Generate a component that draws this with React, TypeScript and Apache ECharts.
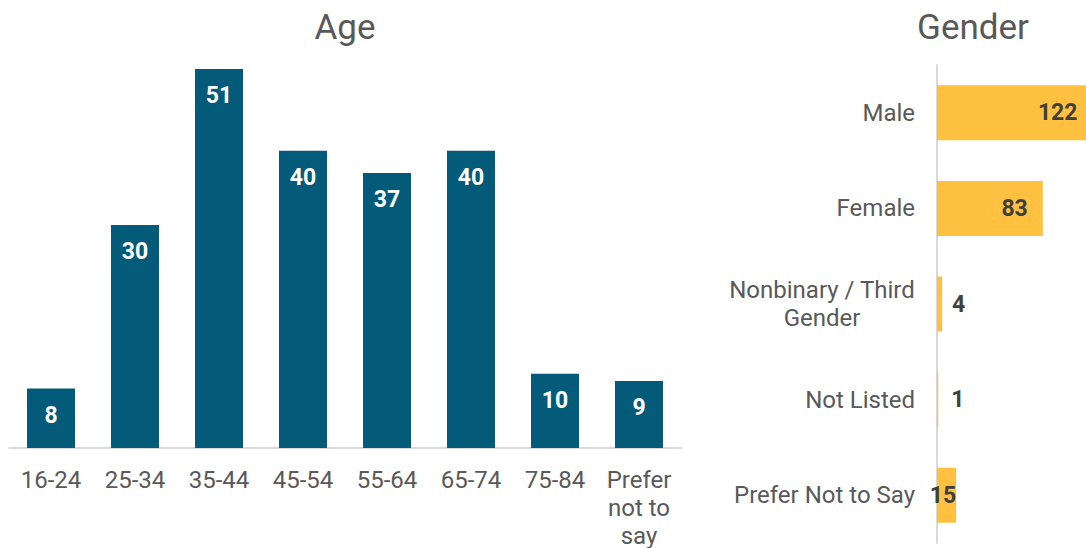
import React, { useEffect, useRef } from 'react';
import * as echarts from 'echarts';

const ageTitle = 'Age';
const genderTitle = 'Gender';
const ageCategories = ['16-24', '25-34', '35-44', '45-54', '55-64', '65-74', '75-84', 'Prefer not to say'];
const ageCounts = [8, 30, 51, 40, 37, 40, 10, 9];
const genderCategories = ['Male', 'Female', 'Nonbinary / Third Gender', 'Not Listed', 'Prefer Not to Say'];
const genderCounts = [122, 83, 4, 1, 15];

const FONT = 'Roboto, "Noto Sans", sans-serif';
const GREY = '#595959';
const DARK = '#404040';
const AXIS = '#d9d9d9';
const BLUE = '#035a79';
const GOLD = '#ffc13f';

function wrap(text: string, maxChars: number): string[] {
  const words = text.split(' ');
  const lines: string[] = [];
  let cur = '';
  for (const w of words) {
    const next = cur ? cur + ' ' + w : w;
    if (next.length > maxChars && cur) {
      lines.push(cur);
      cur = w;
    } else {
      cur = next;
    }
  }
  if (cur) lines.push(cur);
  return lines;
}

export default function App() {
  const ref = useRef<HTMLDivElement>(null);
  useEffect(() => {
    const chart = echarts.init(ref.current!, null, { renderer: 'svg' });
    const option: any = {
      animation: false,
      graphic: [
        {
          type: 'text', x: 345, y: 27,
          style: { text: ageTitle, textAlign: 'center', textVerticalAlign: 'middle', fontFamily: FONT, fontSize: 35, fill: GREY },
        },
        {
          type: 'text', x: 973, y: 27,
          style: { text: genderTitle, textAlign: 'center', textVerticalAlign: 'middle', fontFamily: FONT, fontSize: 35, fill: GREY },
        },
      ],
      grid: [
        { left: 9, width: 672, top: 69, height: 379, outerBoundsMode: 'none' },
        { left: 937, width: 155.5, top: 65, height: 478, outerBoundsMode: 'none' },
      ],
      xAxis: [
        {
          type: 'category', gridIndex: 0, data: ageCategories,
          axisTick: { show: false },
          axisLine: { lineStyle: { color: AXIS, width: 2 } },
          axisLabel: {
            interval: 0, margin: 18, color: GREY, fontFamily: FONT, fontSize: 24, lineHeight: 28,
            formatter: (v: string) => wrap(v, 6).join('\n'),
          },
        },
        { type: 'value', gridIndex: 1, min: 0, max: 122, show: false, splitLine: { show: false } },
      ],
      yAxis: [
        { type: 'value', gridIndex: 0, min: 0, max: 51, show: false, splitLine: { show: false } },
        {
          type: 'category', gridIndex: 1, data: genderCategories, inverse: true,
          axisTick: { show: false },
          axisLine: { lineStyle: { color: AXIS, width: 2 } },
          axisLabel: {
            interval: 0, margin: 22, color: GREY, fontFamily: FONT, fontSize: 24, lineHeight: 28,
            formatter: (v: string) => wrap(v, 17).map((l) => `{c|${l}}`).join('\n'),
            rich: { c: { align: 'center', color: GREY, fontFamily: FONT, fontSize: 24, lineHeight: 28 } },
          },
        },
      ],
      series: [
        {
          type: 'bar', xAxisIndex: 0, yAxisIndex: 0, data: ageCounts, barWidth: 48,
          itemStyle: { color: BLUE },
          label: {
            show: true, position: 'insideTop', distance: 15, color: '#ffffff',
            fontFamily: FONT, fontWeight: 'bold', fontSize: 23,
          },
        },
        {
          type: 'bar', xAxisIndex: 1, yAxisIndex: 1, barWidth: 55, clip: false,
          itemStyle: { color: GOLD },
          data: genderCounts.map((v) => ({
            value: v,
            label: v >= 50
              ? { position: 'insideRight', distance: 15 }
              : v >= 10
                ? { position: 'insideRight', distance: 0 }
                : { position: 'right', distance: v > 1 ? 10 : 13 },
          })),
          label: {
            show: true, color: DARK, fontFamily: FONT, fontWeight: 'bold', fontSize: 23,
          },
        },
      ],
    };
    chart.setOption(option);
    return () => chart.dispose();
  }, []);
  return <div ref={ref} style={{ position: 'absolute', left: 0, top: 0, width: 1086, height: 548 }} />;
}
